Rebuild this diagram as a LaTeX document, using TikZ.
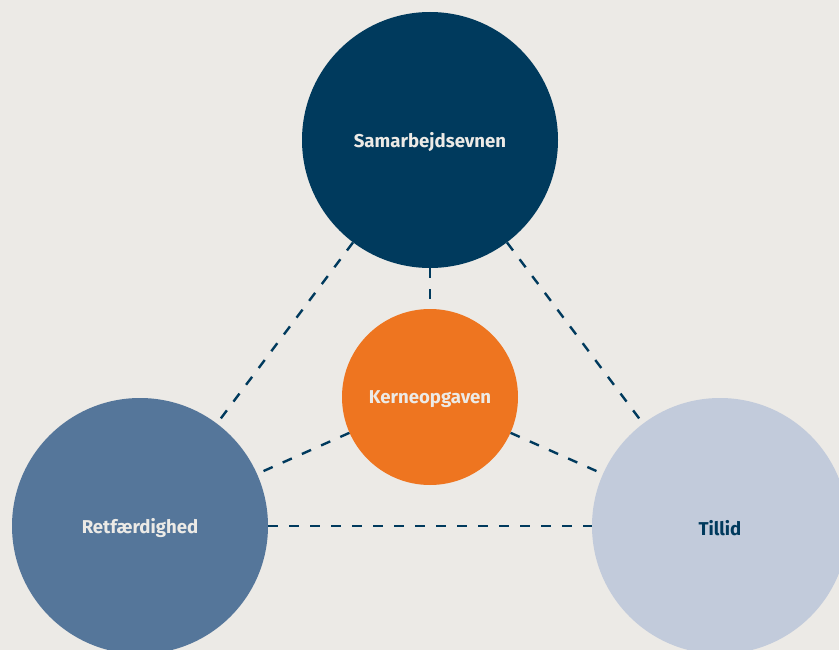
\documentclass[tikz,border=0pt]{standalone}
\usepackage{fontspec}
\setmainfont{Fira Sans}
\usetikzlibrary{positioning}
\definecolor{PaperGrey}{HTML}{ECEAE6}
\definecolor{DeepNavy}{HTML}{003A5D}
\definecolor{SteelBlue}{HTML}{55769A}
\definecolor{MistBlue}{HTML}{C2CBDB}
\definecolor{CoreOrange}{HTML}{EE7520}
\definecolor{LabelWhite}{HTML}{ECEAE6}

\begin{document}
\begin{tikzpicture}[
    x=1pt, y=-1pt,
    pillar/.style={circle, inner sep=0pt, minimum size=256pt},
    core/.style={pillar, minimum size=176pt, fill=CoreOrange},
    nametag/.style={yshift=-2.5pt, inner sep=0pt,
      font=\bfseries\fontsize{18.6}{22}\selectfont, text=LabelWhite},
    link/.style={draw=DeepNavy, line width=2.4pt, dash pattern=on 10pt off 11pt}
  ]
    \fill[PaperGrey] (0,0) rectangle (839,650);
    \useasboundingbox (0,0) rectangle (839,650);

    \node[pillar, fill=DeepNavy] (samarbejde) at (430,140) {};
    \node[core] (kerne) at (430,397) {};
    \node[pillar, fill=SteelBlue] (ret) at (140,526) {};
    \node[pillar, fill=MistBlue] (tillid) at (720,526) {};

    % labels sit a touch below the centres
    \node[nametag] (samarbejde-txt) at (samarbejde) {Samarbejdsevnen};
    \node[nametag] (kerne-txt) at (kerne) {Kerneopgaven};
    \node[nametag] (ret-txt) at (ret) {Retfærdighed};
    \node[nametag, text=DeepNavy] (tillid-txt) at (tillid) {Tillid};

    \draw[link] (samarbejde) -- (kerne);
    \draw[link] (samarbejde) -- (ret);
    \draw[link] (samarbejde) -- (tillid);
    \draw[link] (kerne) -- (ret);
    \draw[link] (kerne) -- (tillid);
    \draw[link] (ret) -- (tillid);
\end{tikzpicture}
\end{document}
